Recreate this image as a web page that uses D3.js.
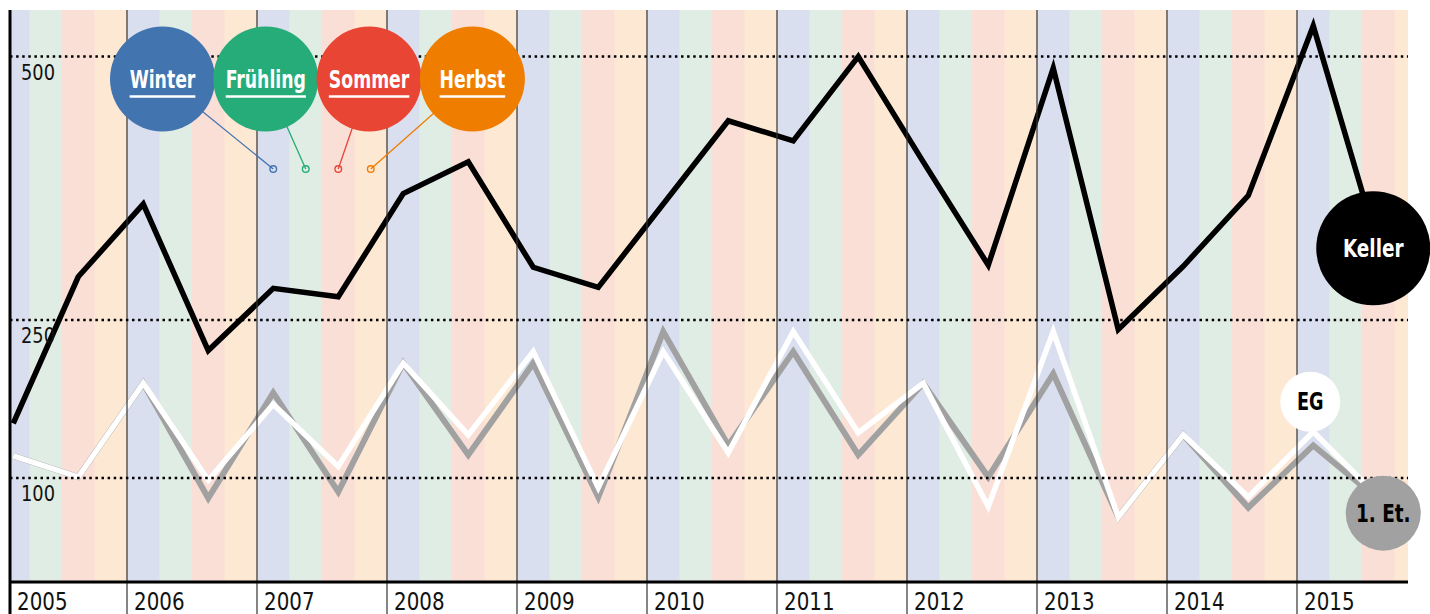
<!DOCTYPE html>
<html>
<head>
<meta charset="utf-8">
<script src="https://cdn.jsdelivr.net/npm/d3@7"></script>
<style>
  body { margin: 0; background: #fff; }
  svg { display: block; }
  text { font-stretch: condensed; }
</style>
</head>
<body>
<svg id="chart" width="1430" height="614"></svg>
<script>
// data
var years = [2005, 2006, 2007, 2008, 2009, 2010, 2011, 2012, 2013, 2014, 2015];
var seasons = ["Winter", "Frühling", "Sommer", "Herbst"];
var seasonColors = ["#4274b0", "#25ac78", "#e84535", "#ef7d00"];
var bandColors = ["#dadff0", "#e0ede4", "#fadfd6", "#fde8d3"];
var yTicks = [100, 250, 500];

// two readings per year: winter and summer
var keller = [152, 291, 360, 221, 280, 272, 370, 400, 300, 281, 360, 439, 420, 500, 400, 302, 489, 241, 301, 368, 529, 320];
var eg     = [121, 101, 190, 98, 170, 111, 209, 141, 220, 91, 220, 124, 239, 143, 190, 73, 239, 63, 141, 82, 144, 82];
var etage1 = [121, 101, 190, 81, 181, 87, 209, 122, 209, 82, 239, 131, 220, 122, 190, 101, 199, 63, 141, 72, 131, 80];

var svg = d3.select("#chart");
var plotL = 10, plotR = 1408, plotT = 10, plotB = 583.5;
var fontC = "'DejaVu Sans', sans-serif";

var x = d3.scaleLinear().domain([2006, 2016]).range([127, 1427]);
var y = d3.scaleLinear().domain([0, 500]).range([plotB, 56.5]);

// time of each reading: winter center / summer center
function tOf(i) {
  var yr = years[Math.floor(i / 2)];
  return yr + (i % 2 === 0 ? 0.125 : 0.625);
}

// narrow text, like the DIN-ish font of the original
function narrow(sel, px, py, sx, anchor) {
  return sel.append("text")
    .attr("transform", "translate(" + px + "," + py + ") scale(" + sx + ",1)")
    .attr("text-anchor", anchor || "start")
    .attr("font-family", fontC);
}

svg.append("defs").append("clipPath").attr("id", "plot")
  .append("rect").attr("x", plotL).attr("y", plotT)
  .attr("width", plotR - plotL).attr("height", plotB - plotT);

var plot = svg.append("g").attr("clip-path", "url(#plot)");

// season bands
var bands = [];
years.forEach(function(yr) {
  seasons.forEach(function(s, i) { bands.push({t: yr + i / 4, i: i}); });
});
plot.selectAll(".band").data(bands).enter().append("rect")
  .attr("class", "band")
  .attr("x", function(d) { return x(d.t); })
  .attr("y", plotT)
  .attr("width", x(2006.25) - x(2006) + 0.5)
  .attr("height", plotB - plotT)
  .attr("fill", function(d) { return bandColors[d.i]; });

// year lines (extend below axis as ticks)
svg.selectAll(".yearline").data(years.slice(1)).enter().append("line")
  .attr("x1", function(d) { return x(d); })
  .attr("x2", function(d) { return x(d); })
  .attr("y1", plotT).attr("y2", 614)
  .attr("stroke", "#333").attr("stroke-width", 1.2);

// dotted gridlines
svg.selectAll(".grid").data(yTicks).enter().append("line")
  .attr("x1", plotL).attr("x2", plotR)
  .attr("y1", function(d) { return y(d); })
  .attr("y2", function(d) { return y(d); })
  .attr("stroke", "#000").attr("stroke-width", 2.5)
  .attr("stroke-dasharray", "2.5,3.6");

yTicks.forEach(function(v) {
  narrow(svg, 21, y(v) + 23, 0.9)
    .attr("font-size", 22).attr("fill", "#111").text(v);
});

// lines
var line = d3.line()
  .x(function(d, i) { return x(tOf(i)); })
  .y(function(d) { return y(d); });

plot.append("path").datum(etage1).attr("d", line)
  .attr("fill", "none").attr("stroke", "#a0a1a0").attr("stroke-width", 6);
plot.append("path").datum(eg).attr("d", line)
  .attr("fill", "none").attr("stroke", "#fff").attr("stroke-width", 5.5);
plot.append("path").datum(keller).attr("d", line)
  .attr("fill", "none").attr("stroke", "#000").attr("stroke-width", 5.5);

// axes frame
svg.append("line").attr("x1", plotL).attr("x2", plotR)
  .attr("y1", 582).attr("y2", 582)
  .attr("stroke", "#000").attr("stroke-width", 3);
svg.append("line").attr("x1", plotL).attr("x2", plotL)
  .attr("y1", plotT).attr("y2", 614)
  .attr("stroke", "#000").attr("stroke-width", 3);

// year labels
years.forEach(function(yr) {
  narrow(svg, Math.max(x(yr), plotL) + 7, 610, 0.92)
    .attr("font-size", 24).attr("font-weight", 500).attr("fill", "#111")
    .text(yr);
});

// series labels
var last = keller.length - 1;
function seriesLabel(cx, cy, r, fill, txt, txtColor, size) {
  var g = svg.append("g");
  g.append("circle").attr("cx", cx).attr("cy", cy).attr("r", r).attr("fill", fill);
  narrow(g, cx, cy + size * 0.36, 0.82, "middle")
    .attr("font-weight", "bold").attr("font-size", size).attr("fill", txtColor)
    .text(txt);
}
seriesLabel(x(tOf(last)) - 5, y(keller[last]) + 2, 57, "#000", "Keller", "#fff", 25);
seriesLabel(x(tOf(last - 1)) - 3, y(eg[last - 1]) - 30, 30, "#fff", "EG", "#000", 24);
seriesLabel(x(tOf(last)) + 5, y(etage1[last]) + 14, 37.5, "#a0a1a0", "1. Et.", "#000", 25);

// season legend
var legend = svg.append("g").selectAll("g").data(seasons).enter().append("g");
legend.append("line")
  .attr("x1", function(d, i) { return 162.5 + i * 103.3; })
  .attr("y1", 79)
  .attr("x2", function(d, i) { return x(2007 + (i + 0.5) / 4); })
  .attr("y2", 169)
  .attr("stroke", function(d, i) { return seasonColors[i]; })
  .attr("stroke-width", 1.3);
legend.append("circle")
  .attr("cx", function(d, i) { return x(2007 + (i + 0.5) / 4); })
  .attr("cy", 169).attr("r", 3.3)
  .attr("fill", "none")
  .attr("stroke", function(d, i) { return seasonColors[i]; })
  .attr("stroke-width", 1.4);
legend.append("circle")
  .attr("cx", function(d, i) { return 162.5 + i * 103.3; })
  .attr("cy", 79).attr("r", 52.5)
  .attr("fill", function(d, i) { return seasonColors[i]; });
legend.each(function(d, i) {
  var cx = 162.5 + i * 103.3;
  var g = d3.select(this);
  var t = narrow(g, cx, 88, 0.8, "middle")
    .attr("font-weight", "bold").attr("font-size", 24).attr("fill", "#fff")
    .text(d);
  var w = t.node().getComputedTextLength() * 0.8;
  g.append("line")
    .attr("x1", cx - w / 2).attr("x2", cx + w / 2)
    .attr("y1", 96.5).attr("y2", 96.5)
    .attr("stroke", "#fff").attr("stroke-width", 2.6);
});
</script>
</body>
</html>
